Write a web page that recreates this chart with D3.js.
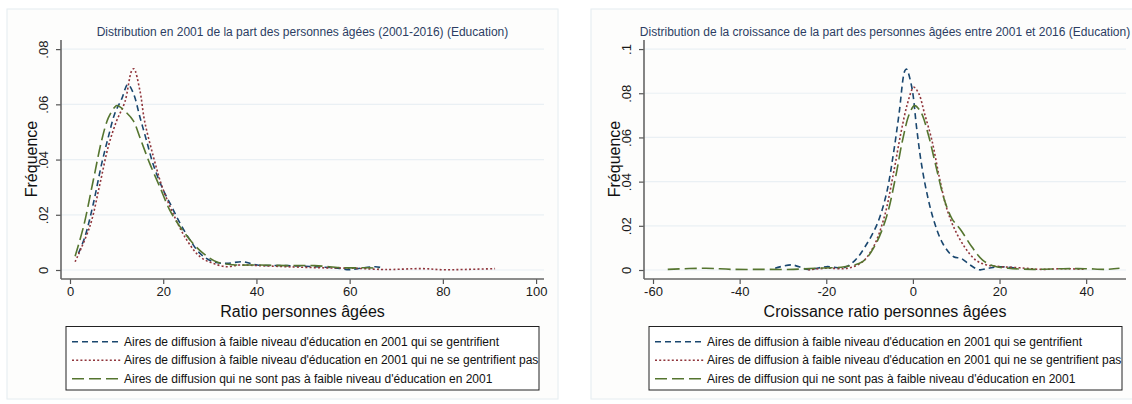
<!DOCTYPE html>
<html><head><meta charset="utf-8">
<script src="https://cdn.jsdelivr.net/npm/d3@7"></script>
<style>
body{margin:0;background:#fff;}
text{font-family:"Liberation Sans",Arial,Helvetica,sans-serif;}
</style></head>
<body>
<svg id="c" width="1132" height="404"></svg>
<script>
// ---------- DATA ----------
const seriesNames = [
  "Aires de diffusion à faible niveau d'éducation en 2001 qui se gentrifient",
  "Aires de diffusion à faible niveau d'éducation en 2001 qui ne se gentrifient pas",
  "Aires de diffusion qui ne sont pas à faible niveau d'éducation en 2001"
];
const titleLeft = "Distribution en 2001 de la part des personnes âgées (2001-2016) (Education)";
const titleRight = "Distribution de la croissance de la part des personnes âgées entre 2001 et 2016 (Education)";
const xTitleLeft = "Ratio personnes âgées";
const xTitleRight = "Croissance ratio personnes âgées";
const yTitle = "Fréquence";

const leftXTicks = [0, 20, 40, 60, 80, 100];
const leftYTicks = [0, 0.02, 0.04, 0.06, 0.08];
const leftYLabels = ["0", ".02", ".04", ".06", ".08"];
const rightXTicks = [-60, -40, -20, 0, 20, 40];
const rightYTicks = [0, 0.02, 0.04, 0.06, 0.08, 0.1];
const rightYLabels = ["0", ".02", ".04", ".06", ".08", ".1"];

// Left panel: ratio (x, density)
const leftBlue = [[1.8,.006],[3.2,.012],[5,.024],[6.8,.0385],[8.2,.048],[9.6,.0566],[11.1,.062],[12.4,.0672],[13.6,.064],[15,.0554],[16.4,.047],[17.9,.038],[20,.029],[21.8,.023],[23.6,.017],[25.7,.011],[27.9,.006],[30.7,.003],[33.6,.0024],[37,.003],[40.2,.0018],[46.4,.0016],[52.5,.0012],[57.9,.0006],[59.8,.0001],[61.7,.0005],[65.5,.0012],[66.7,.0009]];
const leftRed = [[1.1,.003],[4.3,.016],[6.4,.031],[8.2,.0446],[10,.054],[11.8,.061],[13.2,.072],[13.7,.0729],[15,.065],[16,.054],[17.9,.041],[19.6,.031],[22.1,.0205],[25,.011],[27.9,.0048],[30.7,.0024],[33.6,.0012],[36.4,.0018],[40.2,.0016],[46.4,.0012],[54,.0008],[61.7,.0006],[66.7,.0002],[69.3,.0002],[75.5,.0005],[80,.0001],[84.7,.0002],[91.2,.0005]];
const leftGreen = [[1.1,.005],[2.9,.0157],[5,.0325],[6.8,.047],[8.2,.055],[9.6,.059],[10.1,.0596],[12.1,.057],[13.6,.054],[15,.048],[17.1,.0386],[19.3,.030],[21.4,.0217],[23.6,.0157],[26.4,.0096],[28.6,.006],[31.4,.003],[35,.0019],[40.2,.0018],[46.4,.0016],[52.5,.0016],[58.6,.0008],[64,.0008],[66.3,.0006]];

// Right panel: growth (x, density)
const rightBlue = [[-31.8,.0008],[-28,.0023],[-24.2,.0003],[-20,.0015],[-15.8,.0012],[-13.3,.0045],[-10.8,.0113],[-8.2,.021],[-6.1,.0346],[-4.5,.0526],[-3.2,.0707],[-1.9,.090],[-1.5,.091],[-0.25,.0827],[0.84,.0647],[1.85,.0496],[3.1,.036],[4.8,.0226],[6.9,.012],[9.4,.006],[11.1,.0053],[13.2,.0023],[15.3,.0001],[17.4,.0008],[19.9,.0015],[24,.0008]];
const rightRed = [[-24.2,.0001],[-20,.0008],[-15,.0008],[-11.6,.0038],[-9.1,.0105],[-6.6,.024],[-4.5,.0436],[-2.8,.0617],[-1.3,.075],[0,.0824],[0.3,.0827],[1.4,.0797],[2.7,.0707],[4.4,.0586],[6.1,.042],[7.7,.0286],[9.4,.0195],[11.9,.0105],[14.5,.0045],[17,.0023],[20.4,.0015],[24.6,.001],[29.6,.0003],[34.7,.0006],[39.7,.0003]];
const rightGreen = [[-56.6,.0003],[-47.8,.0008],[-41.9,.0003],[-34.3,.0003],[-27.6,.0003],[-22.5,.0008],[-15.8,.0015],[-11.6,.0038],[-8.7,.0113],[-6.1,.024],[-4,.042],[-2.4,.0586],[-0.8,.0707],[0.4,.0744],[1.85,.0714],[3.5,.0617],[5.2,.048],[7.3,.0316],[9,.0233],[11.1,.018],[13.6,.0105],[16.1,.0045],[18.7,.0018],[22,.0008],[27.9,.0003],[34.7,.0006],[39.7,.0006],[44.7,.0003],[47.7,.0008]];

// ---------- STYLE ----------
const colors = ["#1a476f", "#90353b", "#55752f"];
const dashes = ["6,4", "2,2.2", "12,5"];
const svg = d3.select("#c");

function panel(cfg) {
  const g = svg.append("g");
  g.append("rect").attr("x", cfg.box[0]).attr("y", cfg.box[1])
    .attr("width", cfg.box[2]).attr("height", cfg.box[3])
    .attr("fill", "#fdfdfc").attr("stroke", "#e4ecf0").attr("stroke-width", 1);

  const x = d3.scaleLinear().domain(cfg.xdom).range([cfg.px0, cfg.px1]);
  const y = d3.scaleLinear().domain(cfg.ydom).range([cfg.py1, cfg.py0]);

  g.selectAll(".grid").data(cfg.yTicks).enter().append("line")
    .attr("x1", cfg.px0).attr("x2", cfg.px1)
    .attr("y1", d => y(d)).attr("y2", d => y(d))
    .attr("stroke", "#eaf0f4").attr("stroke-width", 1.2);

  const line = d3.line().x(d => x(d[0])).y(d => y(d[1])).curve(d3.curveCatmullRom.alpha(0.5));
  cfg.series.forEach((s, i) => {
    g.append("path").attr("d", line(s)).attr("fill", "none")
      .attr("stroke", colors[i]).attr("stroke-width", 1.6)
      .attr("stroke-dasharray", dashes[i]);
  });

  const xAxis = d3.axisBottom(x).tickValues(cfg.xTicks).tickSize(5).tickPadding(3).tickFormat(d => String(d));
  const xa = g.append("g").attr("transform", `translate(0,${cfg.py1})`).call(xAxis);
  xa.select(".domain").remove();
  xa.append("line").attr("x1", cfg.px0).attr("x2", cfg.px1).attr("stroke", "#666").attr("stroke-width", 1.6);
  xa.selectAll(".tick line").attr("stroke", "#555").attr("stroke-width", 1.2);
  xa.selectAll(".tick text").attr("fill", "#1a1a1a").style("font-size", "13px")
    .style("font-family", "'Liberation Sans',Arial,sans-serif");

  const yAxis = d3.axisLeft(y).tickValues(cfg.yTicks).tickSize(5).tickFormat((d, i) => cfg.yLabels[i]);
  const ya = g.append("g").attr("transform", `translate(${cfg.px0},0)`).call(yAxis);
  ya.select(".domain").remove();
  ya.append("line").attr("y1", cfg.py0).attr("y2", cfg.py1).attr("stroke", "#666").attr("stroke-width", 1.6);
  ya.selectAll(".tick line").attr("stroke", "#555").attr("stroke-width", 1.2);
  ya.selectAll(".tick text").attr("fill", "#1a1a1a").style("font-size", "13px")
    .style("font-family", "'Liberation Sans',Arial,sans-serif")
    .attr("x", null).attr("dy", null)
    .attr("text-anchor", "middle")
    .attr("transform", "translate(-13,0) rotate(-90)");

  const cx = (cfg.px0 + cfg.px1) / 2;
  g.append("text").attr("x", cx).attr("y", 35.5).attr("text-anchor", "middle")
    .attr("fill", "#2c3d63").style("font-size", "12px").text(cfg.title);
  g.append("text").attr("x", cx).attr("y", 316.5).attr("text-anchor", "middle")
    .attr("fill", "#111").style("font-size", "16px").text(cfg.xTitle);
  g.append("text").attr("transform", `translate(${cfg.px0 - 24},159) rotate(-90)`)
    .attr("text-anchor", "middle").attr("fill", "#111").style("font-size", "16px").text(yTitle);

  const lx = cfg.px0 + 5, ly = 326.5, lw = 473, lh = 63.5;
  g.append("rect").attr("x", lx).attr("y", ly).attr("width", lw).attr("height", lh)
    .attr("fill", "#fff").attr("stroke", "#222").attr("stroke-width", 1);
  const rows = [341.7, 360.2, 378.7];
  seriesNames.forEach((n, i) => {
    g.append("line").attr("x1", lx + 6).attr("x2", lx + 56).attr("y1", rows[i]).attr("y2", rows[i])
      .attr("stroke", colors[i]).attr("stroke-width", 1.6).attr("stroke-dasharray", dashes[i]);
    g.append("text").attr("x", lx + 58).attr("y", rows[i] + 4).attr("fill", "#111")
      .style("font-size", "12px").text(n);
  });
}

panel({
  box: [7, 9, 551, 390],
  xdom: [-1.93, 101.7], ydom: [-0.00326, 0.0833],
  px0: 61, px1: 544, py0: 40, py1: 279,
  xTicks: leftXTicks, yTicks: leftYTicks, yLabels: leftYLabels,
  series: [leftBlue, leftRed, leftGreen],
  title: titleLeft, xTitle: xTitleLeft
});
panel({
  box: [591, 9, 560, 390],
  xdom: [-62.08, 49.2], ydom: [-0.00407, 0.1041],
  px0: 644, px1: 1126, py0: 40, py1: 279,
  xTicks: rightXTicks, yTicks: rightYTicks, yLabels: rightYLabels,
  series: [rightBlue, rightRed, rightGreen],
  title: titleRight, xTitle: xTitleRight
});
</script>
</body></html>
